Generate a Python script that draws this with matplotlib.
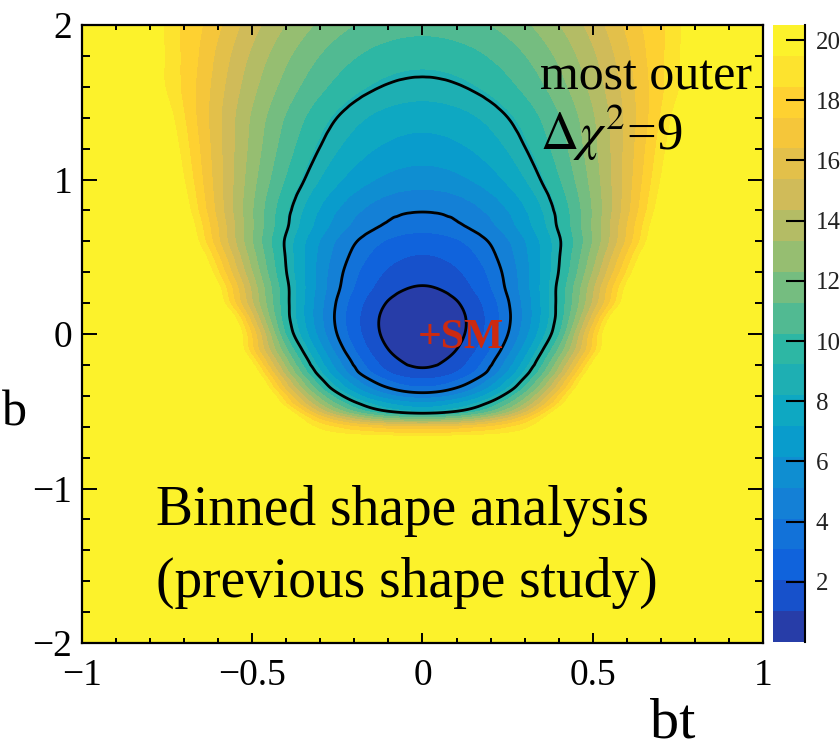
import numpy as np
import matplotlib
matplotlib.use("Agg")
import matplotlib.pyplot as plt
import matplotlib.tri as mtri
from matplotlib.colors import LinearSegmentedColormap, ListedColormap, BoundaryNorm
from matplotlib.cm import ScalarMappable

plt.rcParams['font.family'] = ['Liberation Serif', 'DejaVu Serif']
plt.rcParams['mathtext.fontset'] = 'stix'

# delta chi2 scan, symmetric in bt -> only bt >= 0 is tabulated
bt_half = [0.0, 0.05, 0.1, 0.15, 0.2, 0.25, 0.3, 0.35, 0.4, 0.45,
           0.5, 0.55, 0.6, 0.65, 0.7, 0.75, 0.8, 0.9, 1.0]
b_rows = [-2.0, -1.0, -0.8, -0.7, -0.65, -0.6, -0.55, -0.5, -0.45, -0.4,
          -0.35, -0.3, -0.25, -0.2, -0.1, 0.0, 0.1, 0.2, 0.3, 0.4,
          0.5, 0.6, 0.7, 0.8, 1.0, 1.2, 1.4, 1.6, 1.8, 2.0]
dchi2 = [
    [40.0] * 19,
    [40.0] * 19,
    [28.0, 28.0, 28.1, 28.3, 28.5, 28.8, 29.1, 29.5, 30.0, 30.5, 31.0, 31.6, 32.3, 33.0, 33.8, 34.6, 35.5, 37.5, 40.0],
    [22.0, 22.0, 22.1, 22.3, 22.4, 22.7, 23.0, 23.4, 23.8, 24.3, 24.8, 25.4, 26.0, 26.7, 27.4, 28.3, 29.1, 31.0, 33.1],
    [18.8, 18.8, 19.0, 19.2, 19.4, 19.8, 20.2, 20.8, 21.4, 22.0, 22.8, 23.6, 24.6, 25.6, 26.6, 27.8, 29.0, 31.8, 34.8],
    [16.3, 16.4, 16.6, 17.0, 17.5, 18.2, 19.1, 20.1, 21.2, 22.6, 24.0, 25.6, 27.4, 29.3, 31.4, 33.7, 36.1, 40.0, 40.0],
    [12.0, 12.2, 12.6, 13.3, 14.4, 15.7, 17.3, 19.3, 21.5, 24.0, 26.8, 29.9, 33.3, 37.0, 40.0, 40.0, 40.0, 40.0, 40.0],
    [8.2, 8.4, 9.0, 9.9, 11.2, 12.9, 15.0, 17.5, 20.3, 23.5, 27.1, 31.1, 35.4, 40.0, 40.0, 40.0, 40.0, 40.0, 40.0],
    [6.4, 6.6, 7.2, 8.1, 9.4, 11.1, 13.2, 15.7, 18.5, 21.7, 25.3, 29.3, 33.6, 38.3, 40.0, 40.0, 40.0, 40.0, 40.0],
    [4.6, 4.8, 5.4, 6.4, 7.8, 9.6, 11.8, 14.4, 17.4, 20.7, 24.5, 28.7, 33.2, 38.2, 40.0, 40.0, 40.0, 40.0, 40.0],
    [3.25, 3.45, 4.05, 5.0, 6.4, 8.2, 10.4, 13.0, 16.0, 19.4, 23.2, 27.4, 31.9, 36.9, 40.0, 40.0, 40.0, 40.0, 40.0],
    [2.25, 2.45, 3.05, 4.0, 5.4, 7.2, 9.4, 12.0, 15.0, 18.4, 22.2, 26.4, 30.9, 35.9, 40.0, 40.0, 40.0, 40.0, 40.0],
    [1.3, 1.5, 2.1, 3.1, 4.4, 6.2, 8.4, 10.9, 13.8, 17.2, 20.9, 25.0, 29.5, 34.4, 39.7, 40.0, 40.0, 40.0, 40.0],
    [0.85, 1.04, 1.6, 2.55, 3.9, 5.6, 7.65, 10.1, 12.95, 16.15, 19.75, 23.75, 28.1, 32.8, 37.9, 40.0, 40.0, 40.0, 40.0],
    [0.3, 0.47, 1.0, 1.86, 3.08, 4.64, 6.55, 8.8, 11.4, 14.4, 17.7, 21.3, 25.3, 29.6, 34.3, 39.0, 40.0, 40.0, 40.0],
    [0.03, 0.19, 0.66, 1.45, 2.55, 3.97, 5.7, 7.74, 10.1, 13.5, 17.2, 21.0, 24.8, 28.6, 32.5, 36.4, 40.0, 40.0, 40.0],
    [0.04, 0.19, 0.63, 1.37, 2.41, 3.74, 5.37, 7.29, 9.51, 12.4, 15.8, 19.6, 23.0, 26.6, 30.4, 34.3, 38.2, 40.0, 40.0],
    [0.34, 0.48, 0.91, 1.61, 2.6, 3.87, 5.43, 7.26, 9.38, 11.79, 14.47, 17.44, 20.69, 24.2, 28.0, 32.1, 36.5, 40.0, 40.0],
    [0.93, 1.06, 1.46, 2.11, 3.03, 4.21, 5.66, 7.36, 9.33, 11.56, 14.05, 16.83, 19.83, 23.1, 26.6, 30.4, 34.5, 40.0, 40.0],
    [1.42, 1.54, 1.9, 2.49, 3.32, 4.39, 5.7, 7.25, 9.03, 11.05, 13.32, 15.82, 18.52, 21.5, 24.7, 28.2, 31.8, 39.9, 40.0],
    [1.96, 2.07, 2.39, 2.93, 3.69, 4.67, 5.86, 7.26, 8.89, 10.73, 12.78, 15.06, 17.56, 20.26, 23.2, 26.3, 29.7, 37.0, 40.0],
    [2.56, 2.66, 2.95, 3.44, 4.12, 5.0, 6.08, 7.35, 8.81, 10.47, 12.33, 14.38, 16.62, 19.06, 21.7, 24.5, 27.6, 34.2, 40.0],
    [3.45, 3.54, 3.81, 4.26, 4.88, 5.69, 6.68, 7.84, 9.18, 10.71, 12.41, 14.29, 16.35, 18.59, 21.0, 23.6, 26.4, 32.4, 39.0],
    [4.1, 4.18, 4.43, 4.84, 5.42, 6.16, 7.07, 8.15, 9.38, 10.79, 12.36, 14.09, 15.99, 18.05, 20.28, 22.68, 25.2, 30.8, 37.1],
    [5.6, 5.67, 5.88, 6.24, 6.73, 7.37, 8.15, 9.07, 10.13, 11.33, 12.67, 14.16, 15.79, 17.56, 19.47, 21.52, 23.7, 28.5, 33.9],
    [6.7, 6.76, 6.95, 7.26, 7.7, 8.26, 8.95, 9.76, 10.7, 11.76, 12.95, 14.26, 15.7, 17.26, 18.95, 20.76, 22.7, 26.95, 31.7],
    [7.6, 7.66, 7.82, 8.1, 8.49, 8.99, 9.6, 10.33, 11.16, 12.1, 13.16, 14.33, 15.61, 17.0, 18.5, 20.1, 21.8, 25.6, 29.9],
    [8.7, 8.75, 8.9, 9.15, 9.49, 9.94, 10.48, 11.12, 11.86, 12.7, 13.64, 14.68, 15.81, 17.05, 18.2, 19.3, 21.0, 24.0, 27.5],
    [9.6, 9.65, 9.78, 10.0, 10.33, 10.73, 11.23, 11.82, 12.5, 13.27, 14.13, 15.08, 16.12, 17.25, 18.2, 19.3, 20.6, 23.5, 26.8],
    [10.6, 10.64, 10.77, 10.98, 11.27, 11.64, 12.1, 12.64, 13.27, 13.98, 14.77, 15.64, 16.6, 17.5, 18.2, 19.2, 20.6, 23.5, 26.5],
]
contour_levels = [1, 4, 9]
cbar_ticks = [2, 4, 6, 8, 10, 12, 14, 16, 18, 20]

# mirror to negative bt
bt_half = np.array(bt_half)
z_half = np.array(dchi2)
bt_full = np.concatenate([-bt_half[:0:-1], bt_half])
z_full = np.hstack([z_half[:, :0:-1], z_half])
ny, nx = z_full.shape

# triangulate in grid-index space (square cells), diagonals mirrored about bt = 0
J, I = np.meshgrid(np.arange(nx, dtype=float), np.arange(ny, dtype=float))
triangles = []
for i in range(ny - 1):
    for j in range(nx - 1):
        a, b = i * nx + j, i * nx + j + 1
        c, d = (i + 1) * nx + j + 1, (i + 1) * nx + j
        if j < (nx - 1) // 2:
            triangles += [[a, b, d], [b, c, d]]
        else:
            triangles += [[a, b, c], [a, c, d]]
tri = mtri.Triangulation(J.ravel(), I.ravel(), triangles)
z = z_full.ravel()
interp = mtri.CubicTriInterpolator(tri, z, kind='geom')
tri_f, z_f = mtri.UniformTriRefiner(tri).refine_field(z, triinterpolator=interp, subdiv=3)
# back to (bt, b)
tri_xy = mtri.Triangulation(np.interp(tri_f.x, np.arange(nx), bt_full),
                            np.interp(tri_f.y, np.arange(ny), b_rows),
                            tri_f.triangles)

# kBird-like palette, 20 colour bands from 0 to 20.5
stops = np.linspace(0, 1, 9)
red = [0.2082, 0.0592, 0.0780, 0.0232, 0.1802, 0.5301, 0.8186, 0.9956, 0.9900]
green = [0.1664, 0.3599, 0.5041, 0.6419, 0.7178, 0.7492, 0.7328, 0.7862, 0.9500]
blue = [0.5293, 0.8684, 0.8385, 0.7914, 0.6425, 0.4662, 0.3499, 0.1968, 0.1700]
bird = LinearSegmentedColormap.from_list('bird', list(zip(stops, zip(red, green, blue))))
nband = 20
levels = np.linspace(0, 20.5, nband + 1)
cmap = ListedColormap([bird((i + 0.99) / nband) for i in range(nband)])
cmap.set_over(bird(1.0))
norm = BoundaryNorm(levels, nband)

fig = plt.figure(figsize=(8.4, 7.53), dpi=100)
ax = fig.add_axes([0.0976, 0.146, 0.8107, 0.8208])
cax = fig.add_axes([0.920, 0.1474, 0.038, 0.8194])

ax.tricontourf(tri_xy, z_f, levels=levels, cmap=cmap, norm=norm, extend='max')
ax.tricontour(tri_xy, z_f, levels=contour_levels, colors='k', linewidths=2.0)

ax.set_xlim(-1, 1)
ax.set_ylim(-2, 2)
ax.set_xticks([-1, -0.5, 0, 0.5, 1])
ax.set_xticklabels(['\u22121', '\u22120.5', '0', '0.5', '1'])
ax.set_yticks([-2, -1, 0, 1, 2])
ax.set_yticklabels(['\u22122', '\u22121', '0', '1', '2'])
ax.set_xticks(np.arange(-1, 1.001, 0.1), minor=True)
ax.set_yticks(np.arange(-2, 2.001, 0.2), minor=True)
ax.tick_params(which='both', direction='in', top=True, right=True, width=1.4, labelsize=27)
ax.tick_params(axis='x', which='major', length=7.5, pad=11)
ax.tick_params(axis='x', which='minor', length=3.8)
ax.tick_params(axis='y', which='major', length=11, pad=7)
ax.tick_params(axis='y', which='minor', length=5.5)
for sp in ax.spines.values():
    sp.set_linewidth(1.6)

ax.text(-0.015, -0.09, '+SM', color='#cc2a10', fontsize=30, fontweight='bold',
        ha='left', va='baseline')
ax.text(0.346, 1.58, 'most outer', fontsize=36, ha='left', va='baseline')
ax.text(0.346, 1.19, r'$\Delta\chi^{2}$=9', fontsize=38, ha='left', va='baseline')
ax.text(-0.783, -1.236, 'Binned shape analysis', fontsize=40, ha='left', va='baseline')
ax.text(-0.783, -1.70, '(previous shape study)', fontsize=40, ha='left', va='baseline')

fig.text(2 / 840, 1 - 425 / 753, 'b', fontsize=36, ha='left', va='baseline')
fig.text(650 / 840, 1 - 738 / 753, 'bt', fontsize=42, ha='left', va='baseline')

# palette axis
cb = fig.colorbar(ScalarMappable(norm=norm, cmap=cmap), cax=cax, ticks=cbar_ticks)
cb.outline.set_visible(False)
cax.plot([1, 1], [0, 1], transform=cax.transAxes, color='k', lw=1.5, clip_on=False)
cax.tick_params(direction='in', length=14, width=1.5, right=True, left=False,
                labelsize=18, pad=8, labelcolor='#222222')
cax.minorticks_off()

fig.savefig('out.png', dpi=100)
